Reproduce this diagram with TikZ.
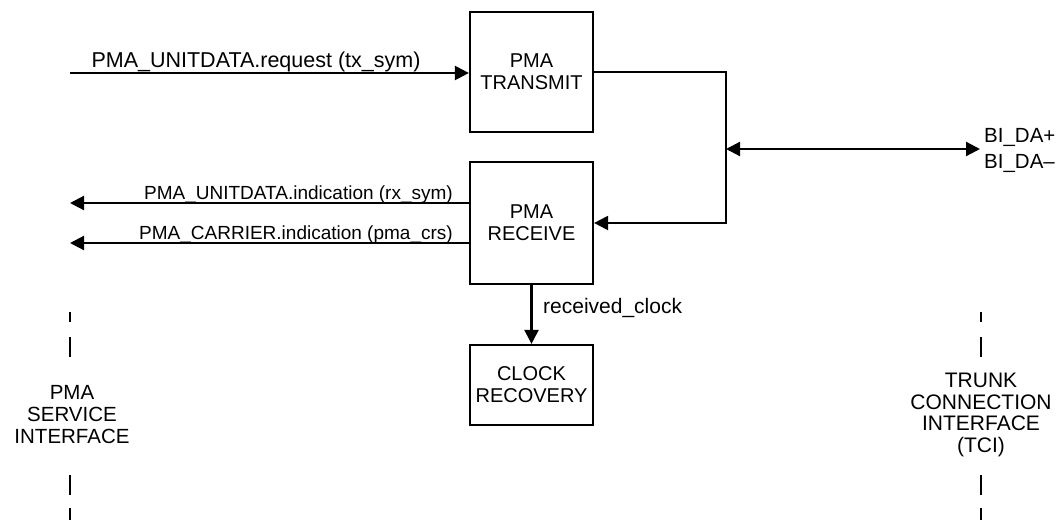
\documentclass[tikz,border=0pt]{standalone}
\usepackage{fontspec}
\setmainfont{Liberation Sans}
\usetikzlibrary{positioning,arrows.meta,calc}

\tikzset{
  blk/.style={draw, line width=2.2pt, minimum width=123pt, minimum height=120pt, align=center, inner sep=0pt},
  sig/.style={line width=2.2pt, -{Triangle[length=14pt,width=14pt]}},
  dsig/.style={line width=2.2pt, {Triangle[length=14pt,width=14pt]}-{Triangle[length=14pt,width=14pt]}},
  lbl/.style={inner sep=0pt, align=center},
  tick/.style={line width=2.2pt}
}

\begin{document}
\begin{tikzpicture}[x=1pt, y=-1pt, font=\fontsize{20}{22}\selectfont]
\useasboundingbox (0,0) rectangle (1060,520);

% blocks
\node[blk] (tx) at (531.5,72) {PMA\\TRANSMIT};
\node[blk, minimum height=122pt] (rx) at (531.5,223) {PMA\\RECEIVE};
\node[blk, minimum height=80pt] (clk) at (531.5,385) {CLOCK\\RECOVERY};

% service interface side
\coordinate (req) at (70,73);
\coordinate (ind) at (70,203);
\coordinate (crs) at (70,243);
\draw[sig] (req) -- (req -| tx.west);
\draw[sig] (ind -| rx.west) -- (ind);
\draw[sig] (crs -| rx.west) -- (crs);
\node[lbl, anchor=base, font=\fontsize{21.5}{24}\selectfont] (reqlbl) at (256,67) {PMA\_UNITDATA.request (tx\_sym)};
\node[lbl, anchor=base east, font=\fontsize{19}{22}\selectfont] (indlbl) at (453,199) {PMA\_UNITDATA.indication (rx\_sym)};
\node[lbl, anchor=base east, font=\fontsize{19}{22}\selectfont] (crslbl) at (453,239) {PMA\_CARRIER.indication (pma\_crs)};

% trunk side
\coordinate (jn) at (726,149);
\coordinate (bi) at (980,149);
\draw[sig] (tx.east) -| (rx.east -| jn) -- (rx.east);
\draw[dsig] (jn) -- (bi);
\node[lbl, anchor=west, align=left, font=\fontsize{20.5}{26}\selectfont] (bida) at (984,150) {BI\_DA+\\BI\_DA\textendash};

% clock
\draw[sig] (rx.south) -- (clk.north);
\node[lbl, anchor=base west, font=\fontsize{21}{22}\selectfont] (clklbl) at (543,313) {received\_clock};

% interfaces
\node[lbl, font=\fontsize{20.5}{22}\selectfont] (psi) at (72,415) {PMA\\SERVICE\\INTERFACE};
\node[lbl, font=\fontsize{21}{21.7}\selectfont] (tci) at (981,415) {TRUNK\\CONNECTION\\INTERFACE\\(TCI)};
\foreach \x in {70,981}
  \draw[tick] (\x,312) -- (\x,322) (\x,337) -- (\x,357) (\x,475) -- (\x,495) (\x,508) -- (\x,520);
\end{tikzpicture}
\end{document}
